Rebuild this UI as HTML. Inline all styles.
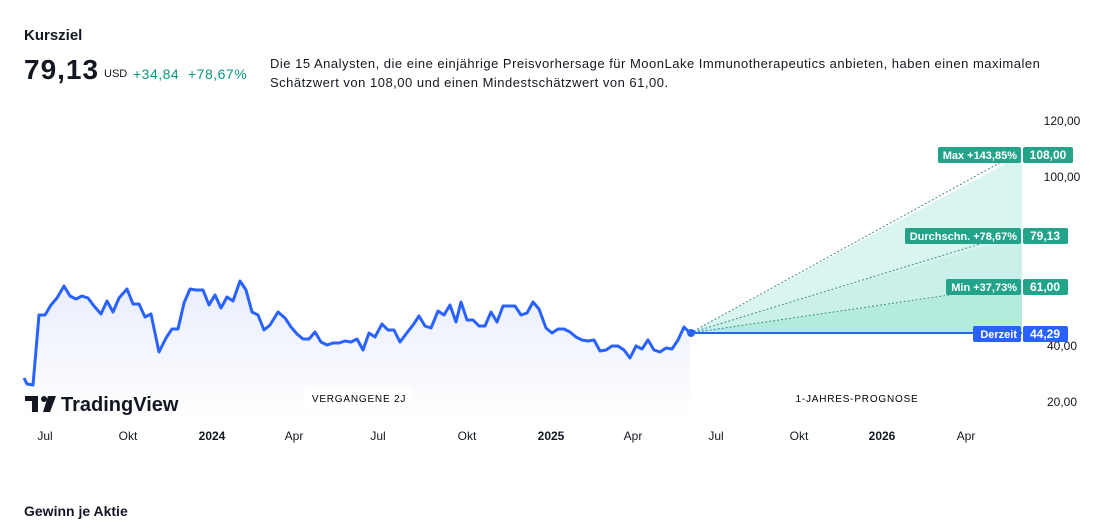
<!DOCTYPE html>
<html><head><meta charset="utf-8"><style>
body{margin:0;width:1111px;height:526px;background:#fff;font-family:"Liberation Sans",sans-serif;color:#131722;position:relative;overflow:hidden}
.a{position:absolute;white-space:nowrap}
</style></head><body>
<div class="a" style="left:24px;top:27px;font-size:15px;font-weight:bold">Kursziel</div>
<div class="a" style="left:24px;top:54px;font-size:28px;font-weight:bold;letter-spacing:1px">79,13</div>
<div class="a" style="left:104px;top:68px;font-size:11px">USD</div>
<div class="a" style="left:133px;top:66px;font-size:14px;color:#089981;letter-spacing:0.5px">+34,84&nbsp;&nbsp;+78,67%</div>
<div class="a" style="left:270px;top:54px;font-size:13px;line-height:19px;letter-spacing:0.5px">Die 15 Analysten, die eine einjährige Preisvorhersage für MoonLake Immunotherapeutics anbieten, haben einen maximalen<br>Schätzwert von 108,00 und einen Mindestschätzwert von 61,00.</div>
<div class="a" style="left:24px;top:503px;font-size:14px;font-weight:bold">Gewinn je Aktie</div>
<svg class="a" style="left:0;top:0" width="1111" height="526">
<defs><linearGradient id="g" x1="0" y1="0" x2="0" y2="1"><stop offset="0" stop-color="#e8edfb"/><stop offset="1" stop-color="#ffffff"/></linearGradient></defs>
<polygon points="690,333 1022,155 1022,333" fill="#d9f5f0"/>
<polygon points="690,333 1022,235 1022,333" fill="#c9f1e9"/>
<polygon points="690,333 1022,286 1022,333" fill="#b3ebdf"/>
<g stroke="#3d8f80" stroke-width="1" stroke-dasharray="2,2" fill="none">
<line x1="690" y1="333" x2="1005" y2="160"/><line x1="690" y1="333" x2="993" y2="240"/><line x1="690" y1="333" x2="970" y2="292"/></g>
<line x1="690" y1="333" x2="1022" y2="333" stroke="#2962ff" stroke-width="2"/>
<polygon fill="url(#g)" points="24,378 27,384 33,385 39,315 45,315 51,305 57,298 64,286 70,296 76,299 82,296 88,298 94,306 101,314 107,301 113,312 119,298 127,289 133,304 139,304 145,317 151,314 159,352 166,338 172,329 178,329 184,303 190,289 196,290 203,290 209,305 215,295 221,308 227,297 233,301 240,281 246,290 252,312 258,315 264,330 270,325 278,312 285,318 291,327 297,334 303,339 309,339 315,332 321,342 327,345 333,343 339,343 345,341 351,342 357,339 363,350 369,333 375,337 382,324 388,330 394,330 400,342 406,334 413,325 419,316 425,326 431,328 438,311 444,315 450,305 456,322 461,302 467,320 473,320 479,326 485,326 491,312 497,322 503,306 509,306 515,306 521,315 527,313 533,302 539,309 546,328 552,333 558,329 564,329 570,332 576,337 582,340 588,341 594,340 600,351 606,350 612,346 618,346 624,350 630,358 636,346 642,349 648,340 654,350 660,352 666,348 672,349 678,340 684,327 690,333 690,418 24,418"/>
<polyline fill="none" stroke="#2962ff" stroke-width="3" stroke-linejoin="round" points="24,378 27,384 33,385 39,315 45,315 51,305 57,298 64,286 70,296 76,299 82,296 88,298 94,306 101,314 107,301 113,312 119,298 127,289 133,304 139,304 145,317 151,314 159,352 166,338 172,329 178,329 184,303 190,289 196,290 203,290 209,305 215,295 221,308 227,297 233,301 240,281 246,290 252,312 258,315 264,330 270,325 278,312 285,318 291,327 297,334 303,339 309,339 315,332 321,342 327,345 333,343 339,343 345,341 351,342 357,339 363,350 369,333 375,337 382,324 388,330 394,330 400,342 406,334 413,325 419,316 425,326 431,328 438,311 444,315 450,305 456,322 461,302 467,320 473,320 479,326 485,326 491,312 497,322 503,306 509,306 515,306 521,315 527,313 533,302 539,309 546,328 552,333 558,329 564,329 570,332 576,337 582,340 588,341 594,340 600,351 606,350 612,346 618,346 624,350 630,358 636,346 642,349 648,340 654,350 660,352 666,348 672,349 678,340 684,327 690,333"/>
<circle cx="691" cy="333" r="4" fill="#2962ff"/>
<g font-size="12" fill="#131722" text-anchor="middle">
<text x="1062" y="125">120,00</text><text x="1062" y="181">100,00</text><text x="1062" y="350">40,00</text><text x="1062" y="406">20,00</text>
<text x="45" y="440">Jul</text><text x="128" y="440">Okt</text><text x="212" y="440" font-weight="bold">2024</text><text x="294" y="440">Apr</text><text x="378" y="440">Jul</text><text x="467" y="440">Okt</text><text x="551" y="440" font-weight="bold">2025</text><text x="633" y="440">Apr</text><text x="716" y="440">Jul</text><text x="799" y="440">Okt</text><text x="882" y="440" font-weight="bold">2026</text><text x="966" y="440">Apr</text>
</g>
<g font-size="11" font-weight="bold" fill="#fff">
<rect x="938" y="147" width="83" height="16" rx="2" fill="#22a38a"/><text x="1017" y="159" text-anchor="end">Max +143,85%</text>
<rect x="1023" y="147" width="50" height="16" rx="2" fill="#22a38a"/><text x="1048" y="159" text-anchor="middle" font-size="12">108,00</text>
<rect x="905" y="228" width="116" height="16" rx="2" fill="#22a38a"/><text x="1017" y="240" text-anchor="end">Durchschn. +78,67%</text>
<rect x="1023" y="228" width="45" height="16" rx="2" fill="#22a38a"/><text x="1045" y="240" text-anchor="middle" font-size="12">79,13</text>
<rect x="946" y="279" width="75" height="16" rx="2" fill="#22a38a"/><text x="1017" y="291" text-anchor="end">Min +37,73%</text>
<rect x="1023" y="279" width="45" height="16" rx="2" fill="#22a38a"/><text x="1045" y="291" text-anchor="middle" font-size="12">61,00</text>
<rect x="973" y="326" width="48" height="16" rx="2" fill="#2962ff"/><text x="1017" y="338" text-anchor="end">Derzeit</text>
<rect x="1023" y="326" width="45" height="16" rx="2" fill="#2962ff"/><text x="1045" y="338" text-anchor="middle" font-size="12">44,29</text>
</g>
<rect x="305" y="388" width="108" height="20" rx="4" fill="#fff"/><text x="359" y="402" font-size="10" text-anchor="middle" letter-spacing="0.8">VERGANGENE 2J</text>
<rect x="790" y="388" width="135" height="20" rx="4" fill="#fff"/><text x="857" y="402" font-size="10" text-anchor="middle" letter-spacing="0.8">1-JAHRES-PROGNOSE</text>
<g fill="#131722"><rect x="25" y="396" width="13" height="5"/><rect x="32" y="396" width="6" height="16"/><circle cx="44" cy="399" r="3"/><polygon points="48,396 56,396 50,412 43,412"/></g>
<text x="61" y="411" font-size="20" font-weight="bold" fill="#131722">TradingView</text>
</svg>
</body></html>
